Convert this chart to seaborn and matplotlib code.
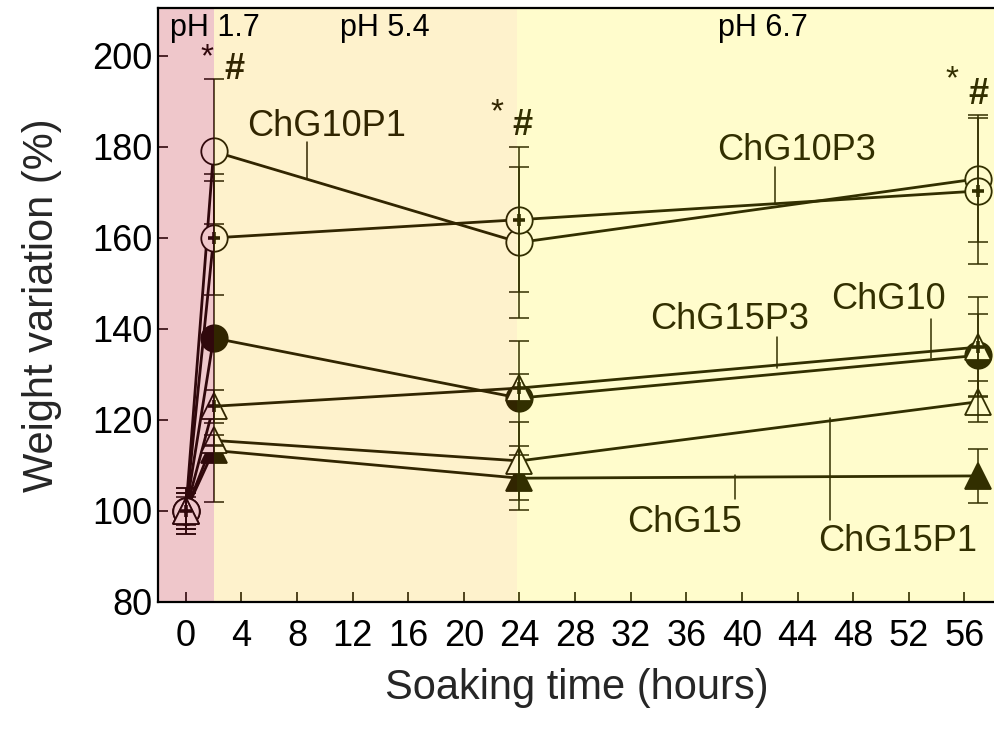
import pandas as pd
import matplotlib
matplotlib.use("Agg")
import matplotlib.pyplot as plt
import seaborn as sns

# soaking times (hours) and mean weight variation (%) per sample
hours = [0, 2, 24, 57]
samples = ["ChG10", "ChG10P1", "ChG10P3", "ChG15", "ChG15P1", "ChG15P3"]

chg10 = [100, 138, 124.8, 134.2]
chg10p1 = [100, 179, 159, 173]
chg10p3 = [100, 160, 164, 170.3]
chg15 = [100, 113.3, 107.2, 107.7]
chg15p1 = [100, 115.5, 111, 124]
chg15p3 = [100, 123, 127, 136]

# standard deviations
err_chg10 = [4, 36, 12.6, 9]
err_chg10p1 = [4, 16, 16.5, 14]
err_chg10p3 = [4, 12.5, 16, 16]
err_chg15 = [5, 1.2, 7, 6]
err_chg15p1 = [5, 1.2, 8.6, 4.5]
err_chg15p3 = [3, 3.6, 3, 11]

xticks = list(range(0, 57, 4))
yticks = [80, 100, 120, 140, 160, 180, 200]

means = [chg10, chg10p1, chg10p3, chg15, chg15p1, chg15p3]
errs = [err_chg10, err_chg10p1, err_chg10p3, err_chg15, err_chg15p1, err_chg15p3]

rows = []
for s, m, e in zip(samples, means, errs):
    for h, v, sd in zip(hours, m, e):
        rows.append({"sample": s, "hours": h, "weight": v, "sd": sd})
df = pd.DataFrame(rows)

sns.set_style("ticks")
plt.rcParams["font.family"] = ["Liberation Sans", "DejaVu Sans"]

fig = plt.figure(figsize=(9.95, 7.31), dpi=100)
ax = fig.add_axes([0.1588, 0.1765, 0.8412, 0.8125])

# marker, filled, plus sign inside
style = {
    "ChG10": ("o", True, False),
    "ChG10P1": ("o", False, False),
    "ChG10P3": ("o", False, True),
    "ChG15": ("^", True, False),
    "ChG15P1": ("^", False, False),
    "ChG15P3": ("^", False, True),
}

k = "black"
sns.lineplot(data=df, x="hours", y="weight", hue="sample", units="sample",
             estimator=None, palette=[k] * 6, lw=2.0, legend=False, ax=ax, zorder=2)

# filled markers first, open ones drawn over them
order = ["ChG10", "ChG15", "ChG10P1", "ChG10P3", "ChG15P1", "ChG15P3"]
for i, s in enumerate(order):
    d = df[df["sample"] == s]
    mk, filled, plus = style[s]
    ax.plot(d["hours"], d["weight"], ls="none", marker=mk, ms=19,
            mfc=k if filled else "white", mec=k, mew=1.3, zorder=3 + i * 0.1)
    if plus:
        ax.plot(d["hours"], d["weight"], ls="none", marker="+", ms=9,
                mew=2.6, color=k, zorder=3.05 + i * 0.1)

for s in samples:
    d = df[df["sample"] == s]
    ax.errorbar(d["hours"], d["weight"], yerr=d["sd"], fmt="none", ecolor=k,
                elinewidth=1.1, capsize=7, capthick=1.1, zorder=4)

# sample labels with leader lines
labels = [
    ("ChG10P1", 10.1, 184.4, 8.7, 181.0, 173.2),
    ("ChG10P3", 43.9, 179.3, 42.4, 175.6, 167.5),
    ("ChG15P3", 39.1, 142.0, 42.5, 138.2, 131.4),
    ("ChG10", 50.5, 146.4, 53.6, 142.2, 133.6),
    ("ChG15", 35.9, 97.4, 39.5, 102.6, 107.9),
    ("ChG15P1", 51.2, 93.2, 46.3, 98.0, 120.4),
]
for txt, tx, ty, lx, l0, l1 in labels:
    ax.text(tx, ty, txt, fontsize=26, ha="center", va="center", color=k, zorder=6)
    ax.plot([lx, lx], [l0, l1], color=k, lw=1.1, zorder=6)

# significance marks
for sx, sy, hx, hy in [(1.5, 199.5, 3.5, 196.9), (22.4, 187.4, 24.2, 184.8),
                       (55.1, 194.8, 57.0, 191.4)]:
    ax.text(sx, sy, "*", fontsize=24, ha="center", va="center", color=k, zorder=6)
    ax.text(hx, hy, "#", fontsize=26, fontweight="bold", ha="center", va="center",
            color=k, zorder=6)

# pH regions as tinted overlays
ax.axvspan(-2, 2, color=(195 / 255, 35 / 255, 51 / 255), alpha=0.25, lw=0, zorder=8)
ax.axvspan(2, 23.8, color=(250 / 255, 190 / 255, 0), alpha=0.2, lw=0, zorder=8)
ax.axvspan(23.8, 58.2, color=(1.0, 240 / 255, 0), alpha=0.2, lw=0, zorder=8)

for px, txt in [(2.1, "pH 1.7"), (14.3, "pH 5.4"), (41.5, "pH 6.7")]:
    ax.text(px, 206.2, txt, fontsize=22, ha="center", va="center", color=k, zorder=9)

ax.set_xlim(-2, 58.2)
ax.set_ylim(80, 210.5)
ax.set_xticks(xticks)
ax.set_yticks(yticks)
ax.tick_params(direction="in", length=7, width=1.2, labelsize=26, colors=k)
ax.tick_params(axis="x", pad=12)
ax.tick_params(axis="y", pad=4)
ax.spines["right"].set_visible(False)
for sp in ax.spines.values():
    sp.set_linewidth(1.6)
    sp.set_color(k)
    sp.set_zorder(10)

ax.set_xlabel("Soaking time (hours)", fontsize=30, labelpad=10)
ax.set_ylabel("Weight variation (%)", fontsize=30, labelpad=22)

fig.savefig("out.png", dpi=100)
